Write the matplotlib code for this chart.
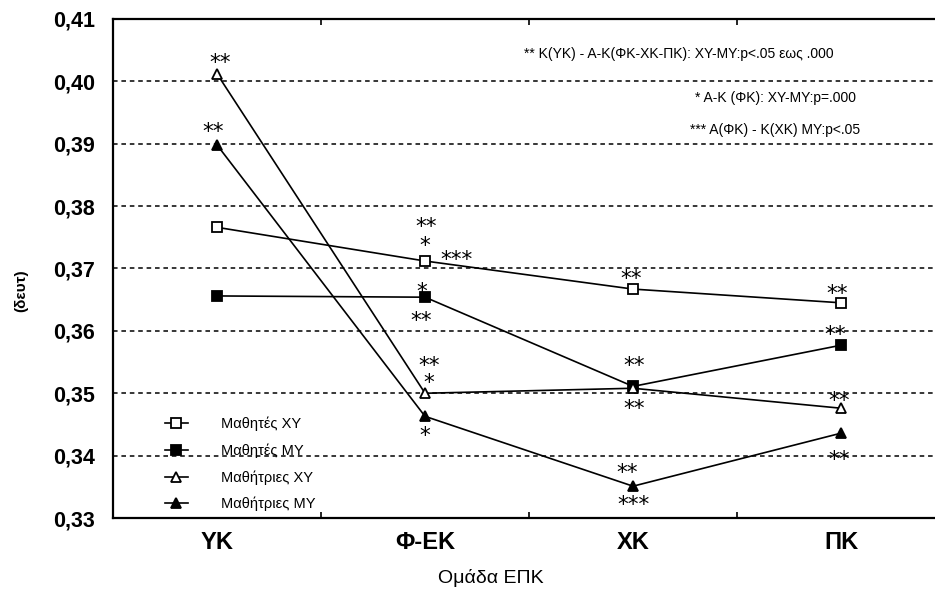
import numpy as np
import matplotlib.pyplot as plt
from matplotlib.ticker import FixedLocator

narrow = ['Liberation Sans Narrow', 'Liberation Sans', 'DejaVu Sans']
plt.rcParams['font.family'] = ['Liberation Sans', 'DejaVu Sans']

# mean reaction time (sec) per group
categories = ['ΥΚ', 'Φ-ΕΚ', 'ΧΚ', 'ΠΚ']
boys_xy = [0.3766, 0.3712, 0.3667, 0.3645]
boys_my = [0.3656, 0.3654, 0.3511, 0.3577]
girls_xy = [0.4012, 0.3500, 0.3508, 0.3476]
girls_my = [0.3898, 0.3463, 0.3351, 0.3436]

series_names = ['Μαθητές ΧΥ', 'Μαθητές ΜΥ', 'Μαθήτριες ΧΥ', 'Μαθήτριες ΜΥ']
y_ticks = [0.33, 0.34, 0.35, 0.36, 0.37, 0.38, 0.39, 0.40, 0.41]

# significance marks: series, category index, text, offset in points
stars = [
    (girls_xy, 0, '**', 2, 7),
    (girls_my, 0, '**', -3, 9),
    (boys_xy, 1, '**', 1, 24),
    (boys_xy, 1, '*', 0, 10),
    (boys_xy, 1, '***', 23, 0),
    (boys_my, 1, '*', -2, 3),
    (boys_my, 1, '**', -3, -18),
    (girls_xy, 1, '**', 3, 19),
    (girls_xy, 1, '*', 3, 7),
    (girls_my, 1, '*', 0, -15),
    (boys_xy, 2, '**', -1, 7),
    (boys_my, 2, '**', 1, 14),
    (boys_my, 2, '**', 1, -17),
    (girls_my, 2, '**', -4, 9),
    (girls_my, 2, '***', 0, -14),
    (boys_xy, 3, '**', -3, 6),
    (boys_my, 3, '**', -4, 7),
    (girls_xy, 3, '**', -1, 5),
    (girls_my, 3, '**', -1, -20),
]

notes = [
    '** Κ(ΥΚ) - Α-Κ(ΦΚ-ΧΚ-ΠΚ): ΧΥ-ΜΥ:p<.05 εως .000',
    '* Α-Κ (ΦΚ): ΧΥ-ΜΥ:p=.000',
    '*** Α(ΦΚ) - Κ(ΧΚ) ΜΥ:p<.05',
]

fig = plt.figure(figsize=(9.35, 5.95), dpi=100)
ax = fig.add_axes([0.1209, 0.1294, 0.8898, 0.8387])
x = np.arange(len(categories))

styles = [('s', 'white'), ('s', 'black'), ('^', 'white'), ('^', 'black')]
data = [boys_xy, boys_my, girls_xy, girls_my]
lines = []
for vals, (mk, fc), name in zip(data, styles, series_names):
    ln, = ax.plot(x, vals, color='black', lw=1.2, marker=mk, ms=7.5 if mk == 's' else 7,
                  mfc=fc, mec='black', mew=1.3, label=name, zorder=3)
    lines.append(ln)

for vals, i, txt, dx, dy in stars:
    ax.annotate(txt, xy=(x[i], vals[i]), xytext=(dx, dy + 0.5), textcoords='offset points',
                ha='center', va='center', fontsize=15.5, family='DejaVu Sans', zorder=4)

ax.set_xlim(-0.5, 3.5)
ax.set_ylim(0.33, 0.41)
ax.set_yticks(y_ticks)
ax.set_yticklabels([f'{v:.2f}'.replace('.', ',') for v in y_ticks],
                   fontsize=15.5, fontweight='bold')
ax.set_xticks(x)
ax.set_xticklabels(categories, fontsize=17, fontweight='bold')
ax.xaxis.set_minor_locator(FixedLocator([0.5, 1.5, 2.5]))
ax.tick_params(axis='x', which='major', length=0, pad=9)
ax.tick_params(axis='x', which='minor', direction='in', length=4, width=1.2,
               top=True, bottom=True)
ax.tick_params(axis='y', length=0, pad=13)

for v in y_ticks[1:-1]:
    ax.axhline(v, color='black', lw=1.1, ls=(0, (3, 2.5)), zorder=1)

for side in ['top', 'bottom', 'left']:
    ax.spines[side].set_linewidth(1.6)
ax.spines['right'].set_visible(False)

y_note = [0.930, 0.842, 0.778]
ax.text(0.4935, y_note[0], notes[0], transform=ax.transAxes, ha='left', va='center',
        fontsize=10, family=narrow)
for txt, yy in zip(notes[1:], y_note[1:]):
    ax.text(0.7957, yy, txt, transform=ax.transAxes, ha='center', va='center',
            fontsize=10, family=narrow)

leg = ax.legend(handles=lines, loc='upper left', bbox_to_anchor=(0.062, 0.203),
                frameon=False, prop={'family': narrow, 'size': 10.5},
                handlelength=1.6, handletextpad=2.3, labelspacing=0.84,
                borderpad=0, borderaxespad=0)

fig.text(0.525, 0.028, 'Ομάδα ΕΠΚ', ha='center', va='center', fontsize=14,
         family=narrow)
fig.text(0.0225, 0.512, '(δευτ)', ha='center', va='center', rotation=90,
         fontsize=11, fontweight='bold', family=narrow)

fig.savefig('out.png', dpi=100)
